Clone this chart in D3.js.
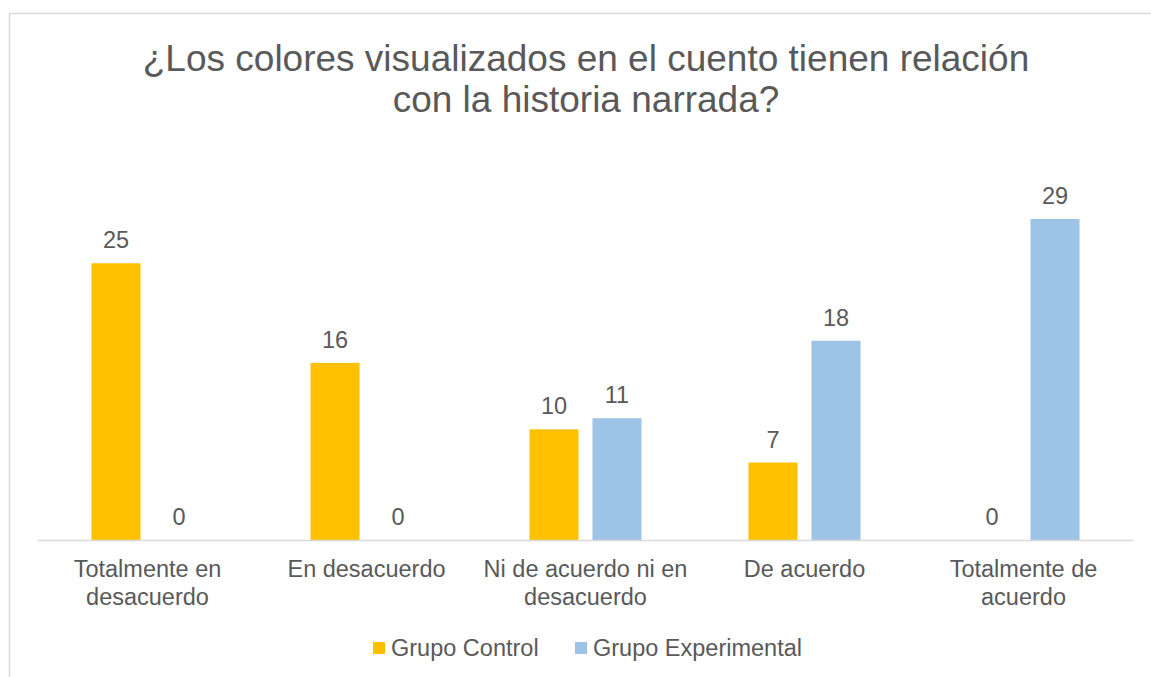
<!DOCTYPE html>
<html><head><meta charset="utf-8">
<script src="https://cdn.jsdelivr.net/npm/d3@7"></script>
<style>body{margin:0;background:#fff}svg{display:block}text{font-family:"Liberation Sans",Arial,sans-serif;fill:#595959}</style>
</head><body>
<script>
const categories = [["Totalmente en","desacuerdo"],["En desacuerdo"],["Ni de acuerdo ni en","desacuerdo"],["De acuerdo"],["Totalmente de","acuerdo"]];
const seriesNames = ["Grupo Control","Grupo Experimental"];
const grupoControl = [25,16,10,7,0];
const grupoExperimental = [0,0,11,18,29];
const colors = ["#FFC000","#9DC3E6"];
const titleLines = ["¿Los colores visualizados en el cuento tienen relación","con la historia narrada?"];

const W=1151,H=677;
const svg=d3.select("body").append("svg").attr("width",W).attr("height",H);
svg.append("rect").attr("x",9.5).attr("y",13.5).attr("width",W).attr("height",H).attr("fill","#fff").attr("stroke","#D9D9D9").attr("stroke-width",1.5);

const x0=d3.scaleBand().domain(d3.range(categories.length)).range([38,1133]);
const x1=d3.scaleBand().domain([0,1]).range([-31.5-24.5,31.5+24.5]).paddingInner(14/63).paddingOuter(0);
const y=d3.scaleLinear().domain([0,30]).range([540,540-30*11.07]);

svg.append("text").attr("x",586).attr("y",71).attr("text-anchor","middle").attr("font-size",37)
  .selectAll("tspan").data(titleLines).join("tspan").attr("x",586).attr("dy",(d,i)=>i?41:0).text(d=>d);

const data=[grupoControl,grupoExperimental];
const g=svg.append("g");
categories.forEach((c,i)=>{
  const cx=x0(i)+x0.bandwidth()/2;
  data.forEach((s,k)=>{
    const v=s[i];
    const bx=cx+x1(k);
    g.append("rect").attr("x",bx).attr("y",y(v)).attr("width",x1.bandwidth()).attr("height",y(0)-y(v)).attr("fill",colors[k]);
    g.append("text").attr("x",bx+x1.bandwidth()/2).attr("y",y(v)-15).attr("text-anchor","middle").attr("font-size",23.5).text(v);
  });
  const t=svg.append("text").attr("text-anchor","middle").attr("font-size",23.5).attr("y",577);
  c.forEach((l,j)=>t.append("tspan").attr("x",cx).attr("dy",j?28:0).text(l));
});
svg.append("line").attr("x1",38).attr("x2",1133).attr("y1",y(0)+0.5).attr("y2",y(0)+0.5).attr("stroke","#D9D9D9").attr("stroke-width",1.5);

const legX=[373,575];
seriesNames.forEach((n,k)=>{
  svg.append("rect").attr("x",legX[k]).attr("y",642).attr("width",12).attr("height",12).attr("fill",colors[k]);
  svg.append("text").attr("x",legX[k]+18).attr("y",656).attr("font-size",23.5).text(n);
});
</script>
</body></html>
